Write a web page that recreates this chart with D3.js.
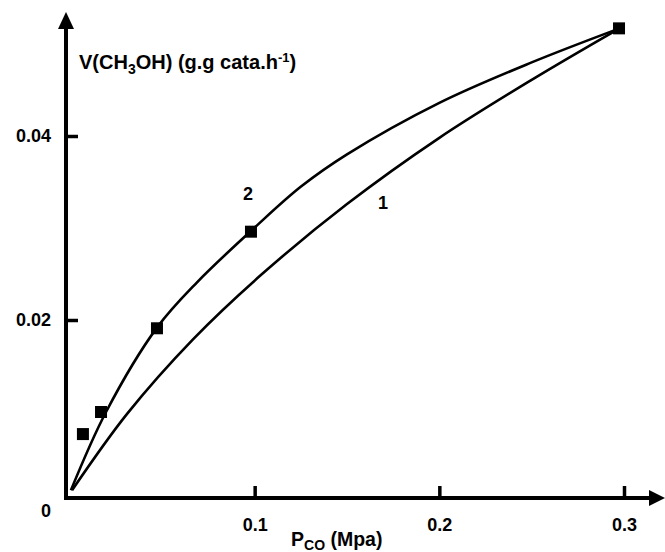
<!DOCTYPE html>
<html>
<head>
<meta charset="utf-8">
<script src="https://cdn.jsdelivr.net/npm/d3@7"></script>
<style>
  body { margin: 0; background: #fff; }
  text { font-family: "Liberation Sans", Arial, sans-serif; font-weight: bold; fill: #000; }
</style>
</head>
<body>
<div id="chart"></div>
<script>
// measured points (P_CO, rate)
const pointsX = [0.007, 0.0168, 0.0471, 0.098, 0.2973];
const pointsY = [0.0076, 0.0100, 0.0191, 0.0296, 0.0517];

// curve 2 (upper)
const curve2X = [0.0005, 0.0195, 0.0472, 0.0688, 0.1003, 0.1251, 0.15, 0.2, 0.25, 0.2976];
const curve2Y = [0.0015, 0.0100, 0.0192, 0.0241, 0.0301, 0.0345, 0.0380, 0.0436, 0.0480, 0.0517];

// curve 1 (lower)
const curve1X = [0.0011, 0.0309, 0.0666, 0.1029, 0.15, 0.2, 0.25, 0.2976];
const curve1Y = [0.0015, 0.0098, 0.0179, 0.0248, 0.0326, 0.0398, 0.0461, 0.0517];

const xTicks = [0.1, 0.2, 0.3];
const yTicks = [0.02, 0.04];

const width = 665, height = 552;
const axisX = 66, axisY = 498;

const svg = d3.select("#chart").append("svg")
    .attr("width", width)
    .attr("height", height);

const x = d3.scaleLinear().domain([0, 0.3]).range([70, 624]);
const y = d3.scaleLinear().domain([0, 0.04]).range([504, 136]);

// Axis lines with arrows
svg.append("line")
    .attr("x1", axisX).attr("y1", axisY + 2)
    .attr("x2", axisX).attr("y2", 24)
    .attr("stroke", "#000").attr("stroke-width", 4);
svg.append("path")
    .attr("d", `M${axisX},12 L${axisX - 8},29 L${axisX + 8},29 Z`)
    .attr("fill", "#000");

svg.append("line")
    .attr("x1", axisX - 2).attr("y1", axisY)
    .attr("x2", 654).attr("y2", axisY)
    .attr("stroke", "#000").attr("stroke-width", 4);
svg.append("path")
    .attr("d", `M665,${axisY} L649,${axisY - 8} L649,${axisY + 8} Z`)
    .attr("fill", "#000");

// X axis ticks
const gx = svg.append("g")
    .attr("transform", `translate(0,${axisY})`)
    .call(d3.axisBottom(x).tickValues(xTicks).tickFormat(d3.format(".1f"))
        .tickSizeInner(-12).tickSizeOuter(0).tickPadding(20));
gx.select(".domain").remove();
gx.selectAll(".tick line").attr("stroke", "#000").attr("stroke-width", 3.5);
gx.selectAll(".tick text").attr("font-size", 18).attr("font-family", null);

// Y axis ticks
const gy = svg.append("g")
    .attr("transform", `translate(${axisX},0)`)
    .call(d3.axisLeft(y).tickValues(yTicks).tickFormat(d3.format(".2f"))
        .tickSizeInner(-12).tickSizeOuter(0).tickPadding(15));
gy.select(".domain").remove();
gy.selectAll(".tick line").attr("stroke", "#000").attr("stroke-width", 3.5);
gy.selectAll(".tick text").attr("font-size", 18).attr("font-family", null);

svg.append("text")
    .attr("x", 46).attr("y", 517)
    .attr("text-anchor", "middle")
    .attr("font-size", 18)
    .text("0");

// Curves
const line = d3.line()
    .x(d => x(d[0]))
    .y(d => y(d[1]))
    .curve(d3.curveCatmullRom.alpha(0.5));

[[curve1X, curve1Y], [curve2X, curve2Y]].forEach(([cx, cy]) => {
    svg.append("path")
        .datum(cx.map((v, i) => [v, cy[i]]))
        .attr("fill", "none")
        .attr("stroke", "#000")
        .attr("stroke-width", 2.6)
        .attr("d", line);
});

// Squares
const sq = 12;
svg.selectAll(".pt")
    .data(pointsX.map((v, i) => [v, pointsY[i]]))
    .enter()
    .append("rect")
    .attr("class", "pt")
    .attr("x", d => x(d[0]) - sq / 2)
    .attr("y", d => y(d[1]) - sq / 2)
    .attr("width", sq)
    .attr("height", sq)
    .attr("fill", "#000");

// Curve labels
svg.append("text").attr("x", 248).attr("y", 200)
    .attr("text-anchor", "middle").attr("font-size", 18).text("2");
svg.append("text").attr("x", 383).attr("y", 209)
    .attr("text-anchor", "middle").attr("font-size", 18).text("1");

// Y axis title
const yt = svg.append("text").attr("x", 79).attr("y", 69).attr("font-size", 20);
yt.append("tspan").text("V(CH");
yt.append("tspan").attr("font-size", 14).attr("dy", 5).text("3");
yt.append("tspan").attr("dy", -5).text("OH) (g.g cata.h");
yt.append("tspan").attr("font-size", 13).attr("dy", -7).text("-1");
yt.append("tspan").attr("dy", 7).text(")");

// X axis title
const xt = svg.append("text").attr("x", 291).attr("y", 546).attr("font-size", 19.5);
xt.append("tspan").text("P");
xt.append("tspan").attr("font-size", 14).attr("dy", 4).text("CO");
xt.append("tspan").attr("dy", -4).text(" (Mpa)");
</script>
</body>
</html>
